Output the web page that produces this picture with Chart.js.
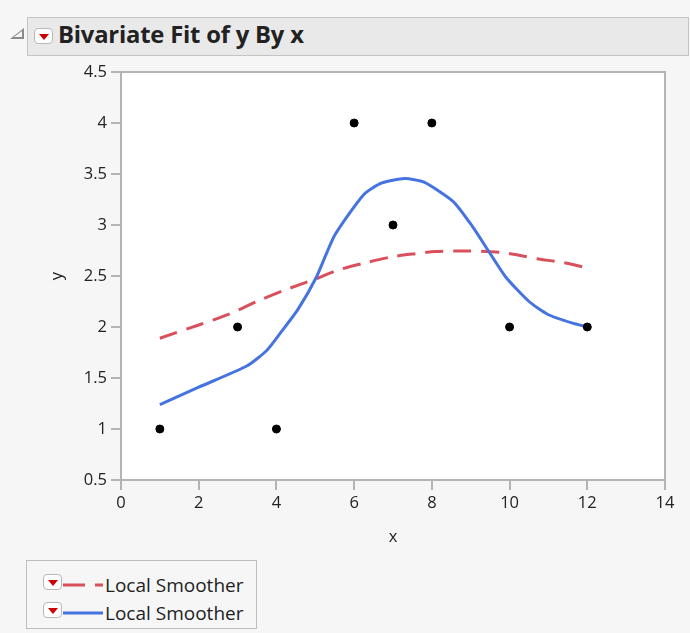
<!DOCTYPE html>
<html>
<head>
<meta charset="utf-8">
<script src="https://cdn.jsdelivr.net/npm/chart.js@4"></script>
<style>
  body { margin: 0; background: #f6f6f6; font-family: "Open Sans", "Noto Sans", sans-serif; }
  #wrap { position: relative; width: 690px; height: 633px; overflow: hidden; }
  #chart { position: absolute; left: 0; top: 0; }
  .tri { position: absolute; left: 10px; top: 28px; width: 0; height: 0;
         border-left: 14px solid transparent; border-bottom: 11px solid #8a8a8a; }
  .tri:after { content: ""; position: absolute; left: -10px; top: 3px;
         border-left: 8px solid transparent; border-bottom: 6px solid #f6f6f6; }
  #header { position: absolute; left: 27px; top: 17px; width: 660px; height: 37px;
            background: #e9e9e9; border: 1px solid #c4c4c4; }
  .dd { position: absolute; width: 19px; height: 16px; border: 1px solid #b8b8b8; border-radius: 4px;
        background: #fdfdfd; box-sizing: border-box; }
  .dd:after { content: ""; position: absolute; left: 4px; top: 5px; width: 0; height: 0;
        border-left: 5px solid transparent; border-right: 5px solid transparent; border-top: 6px solid #cc0000; }
  #title { position: absolute; left: 30px; top: 0px; font-size: 23.8px; font-weight: bold; color: #222;
           font-family: "Open Sans", sans-serif; letter-spacing: -0.2px; }
  #legend { position: absolute; left: 26px; top: 560px; width: 229px; height: 67px;
            border: 1px solid #bdbdbd; background: #f6f6f6; }
  .item { position: absolute; left: 0; height: 24px; }
  .item span { position: absolute; left: 78px; top: -1px; font-size: 19px; color: #222; white-space: nowrap; }
  .item svg { position: absolute; left: 36px; top: 10px; }
</style>
</head>
<body>
<div id="wrap">
  <canvas id="chart" width="690" height="633"></canvas>
  <div class="tri"></div>
  <div id="header">
    <div class="dd" style="left:6px; top:10px;"></div>
    <div id="title">Bivariate Fit of y By x</div>
  </div>
  <div id="legend">
    <div class="item" style="top:12px;">
      <div class="dd" style="left:16px; top:1px;"></div>
      <svg width="40" height="4"><line x1="0" y1="2" x2="40" y2="2" stroke="#d9505d" stroke-width="3" stroke-dasharray="22 10"/></svg>
      <span>Local Smoother</span>
    </div>
    <div class="item" style="top:40px;">
      <div class="dd" style="left:16px; top:1px;"></div>
      <svg width="40" height="4"><line x1="0" y1="2" x2="40" y2="2" stroke="#4573e0" stroke-width="3"/></svg>
      <span>Local Smoother</span>
    </div>
  </div>
</div>
<script>
// observed points
const xObs = [1, 3, 4, 6, 7, 8, 10, 12];
const yObs = [1, 2, 1, 4, 3, 4, 2, 2];

// wide smoother (red dashed)
const xWide = [1, 2, 2.8, 3.5, 4.2, 5, 5.6, 6.3, 7, 7.6, 8.1, 8.9, 9.8, 10.7, 11.4, 12];
const yWide = [1.89, 2.02, 2.13, 2.25, 2.36, 2.47, 2.56, 2.63, 2.69, 2.72, 2.74, 2.745, 2.73, 2.67, 2.63, 2.58];

// narrow smoother (blue)
const xNarrow = [1, 2, 3.25, 3.75, 4.1, 4.55, 5.03, 5.5, 6.25, 6.7, 7.3, 7.8, 8.55, 9, 9.45, 9.9, 10.5, 11, 11.6, 12];
const yNarrow = [1.24, 1.41, 1.62, 1.77, 1.94, 2.17, 2.49, 2.9, 3.3, 3.41, 3.455, 3.42, 3.23, 3.01, 2.75, 2.49, 2.25, 2.12, 2.04, 2.0];

const xTicks = [0, 2, 4, 6, 8, 10, 12, 14];
const yTicks = [0.5, 1, 1.5, 2, 2.5, 3, 3.5, 4, 4.5];

const toXY = (xs, ys) => xs.map((x, i) => ({ x: x, y: ys[i] }));

const plotFrame = {
    id: 'plotFrame',
    beforeDatasetsDraw(chart) {
        const a = chart.chartArea, ctx = chart.ctx;
        ctx.save();
        ctx.fillStyle = '#ffffff';
        ctx.fillRect(a.left, a.top, a.right - a.left, a.bottom - a.top);
        ctx.restore();
    },
    afterDraw(chart) {
        const a = chart.chartArea, ctx = chart.ctx;
        ctx.save();
        ctx.strokeStyle = '#b4b4b4';
        ctx.lineWidth = 2;
        ctx.strokeRect(a.left, a.top, a.right - a.left, a.bottom - a.top);
        ctx.restore();
    }
};

const tickFont = { family: '"Open Sans", sans-serif', size: 16.5 };

new Chart(document.getElementById('chart'), {
    type: 'scatter',
    data: {
        datasets: [
            {
                label: 'Local Smoother',
                data: toXY(xWide, yWide),
                showLine: true,
                borderColor: '#d9505d',
                borderWidth: 3,
                borderDash: [18, 10],
                pointRadius: 0,
                tension: 0.3,
                order: 2
            },
            {
                label: 'Local Smoother',
                data: toXY(xNarrow, yNarrow),
                showLine: true,
                borderColor: '#4573e0',
                borderWidth: 3,
                pointRadius: 0,
                tension: 0.2,
                order: 1
            },
            {
                label: 'y',
                data: toXY(xObs, yObs),
                backgroundColor: '#000000',
                borderColor: '#000000',
                pointRadius: 4,
                order: 0
            }
        ]
    },
    options: {
        responsive: false,
        animation: false,
        layout: { padding: { top: 72, right: 25, bottom: 73, left: 0 } },
        plugins: { legend: { display: false }, tooltip: { enabled: false } },
        scales: {
            x: {
                type: 'linear',
                min: 0,
                max: 14,
                afterBuildTicks: (s) => { s.ticks = xTicks.map(v => ({ value: v })); },
                afterFit: (s) => { s.height = 80; },
                grid: { drawOnChartArea: false, tickLength: 10, color: '#b4b4b4', lineWidth: 2 },
                border: { display: false },
                ticks: { color: '#222', font: tickFont, padding: 3, maxRotation: 0, callback: v => String(v) },
                title: { display: true, text: 'x', color: '#222', font: tickFont, padding: { top: 0, bottom: 13 } }
            },
            y: {
                type: 'linear',
                min: 0.5,
                max: 4.5,
                afterBuildTicks: (s) => { s.ticks = yTicks.map(v => ({ value: v })); },
                afterFit: (s) => { s.width = 121; },
                grid: { drawOnChartArea: false, tickLength: 10, color: '#b4b4b4', lineWidth: 2 },
                border: { display: false },
                ticks: { color: '#222', font: tickFont, padding: 4, callback: v => String(v) },
                title: { display: true, text: 'y', color: '#222', font: tickFont, padding: { top: 47, bottom: 0 } }
            }
        }
    },
    plugins: [plotFrame]
});
</script>
</body>
</html>
